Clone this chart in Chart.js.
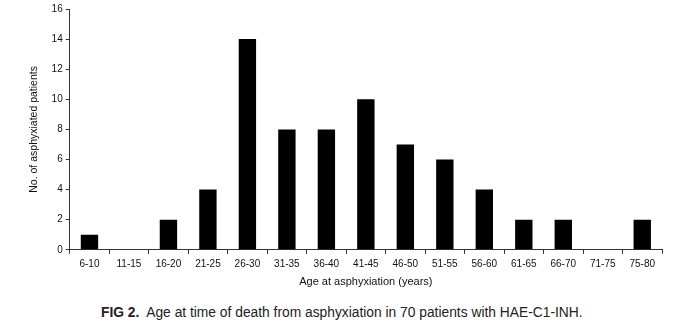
<!DOCTYPE html>
<html>
<head>
<meta charset="utf-8">
<script src="https://cdn.jsdelivr.net/npm/chart.js@4.4.0/dist/chart.umd.min.js"></script>
<style>
  html, body { margin: 0; padding: 0; background: #fff; }
  #wrap { position: relative; width: 696px; height: 333px; }
  #chartBox { position: absolute; left: 0; top: 0; width: 696px; height: 289px; }
  #caption {
    position: absolute; left: 101px; top: 305px;
    font-family: "Liberation Sans", Arial, sans-serif; font-size: 13.8px; color: #222;
  }
  #caption b { font-weight: bold; }
</style>
</head>
<body>
<div id="wrap">
  <div id="chartBox"><canvas id="barChart"></canvas></div>
  <div id="caption"><b>FIG 2.</b>&nbsp; Age at time of death from asphyxiation in 70 patients with HAE-C1-INH.</div>
</div>
<script>
var ageGroups = ['6-10', '11-15', '16-20', '21-25', '26-30', '31-35', '36-40', '41-45',
                 '46-50', '51-55', '56-60', '61-65', '66-70', '71-75', '75-80'];
var patientCounts = [1, 0, 2, 4, 14, 8, 8, 10, 7, 6, 4, 2, 2, 0, 2];
var yTicks = [0, 2, 4, 6, 8, 10, 12, 14, 16];

initBarChart();

function initBarChart() {
  var fontFamily = '"Liberation Sans", Arial, sans-serif';
  var ctxBar = document.getElementById('barChart');
  new Chart(ctxBar, {
    type: 'bar',
    data: {
      labels: ageGroups,
      datasets: [{
        data: patientCounts,
        backgroundColor: '#000',
        borderWidth: 0,
        barPercentage: 0.88,
        categoryPercentage: 0.5
      }]
    },
    options: {
      responsive: true,
      maintainAspectRatio: false,
      animation: false,
      layout: { padding: { left: 28, right: 34, top: 7, bottom: 0 } },
      plugins: {
        legend: { display: false },
        tooltip: { enabled: false }
      },
      scales: {
        x: {
          offset: true,
          grid: {
            offset: true,
            drawOnChartArea: false,
            drawTicks: true,
            tickLength: 4,
            color: '#333'
          },
          border: { display: true, color: '#333', width: 1 },
          ticks: {
            color: '#111',
            font: { family: fontFamily, size: 10 },
            padding: 4,
            maxRotation: 0,
            autoSkip: false
          },
          title: {
            display: true,
            text: 'Age at asphyxiation (years)',
            color: '#111',
            font: { family: fontFamily, size: 11 },
            padding: { top: 2, bottom: 0 }
          }
        },
        y: {
          min: 0,
          max: 16,
          afterBuildTicks: function(axis) {
            axis.ticks = yTicks.map(function(v) { return { value: v }; });
          },
          grid: {
            drawOnChartArea: false,
            drawTicks: true,
            tickLength: 4,
            color: '#333'
          },
          border: { display: true, color: '#333', width: 1 },
          ticks: {
            color: '#111',
            font: { family: fontFamily, size: 10 },
            padding: 3
          },
          title: {
            display: true,
            text: 'No. of asphyxiated patients',
            color: '#111',
            font: { family: fontFamily, size: 10.5 },
            padding: { top: 0, bottom: 8 }
          }
        }
      }
    }
  });
}
</script>
</body>
</html>
